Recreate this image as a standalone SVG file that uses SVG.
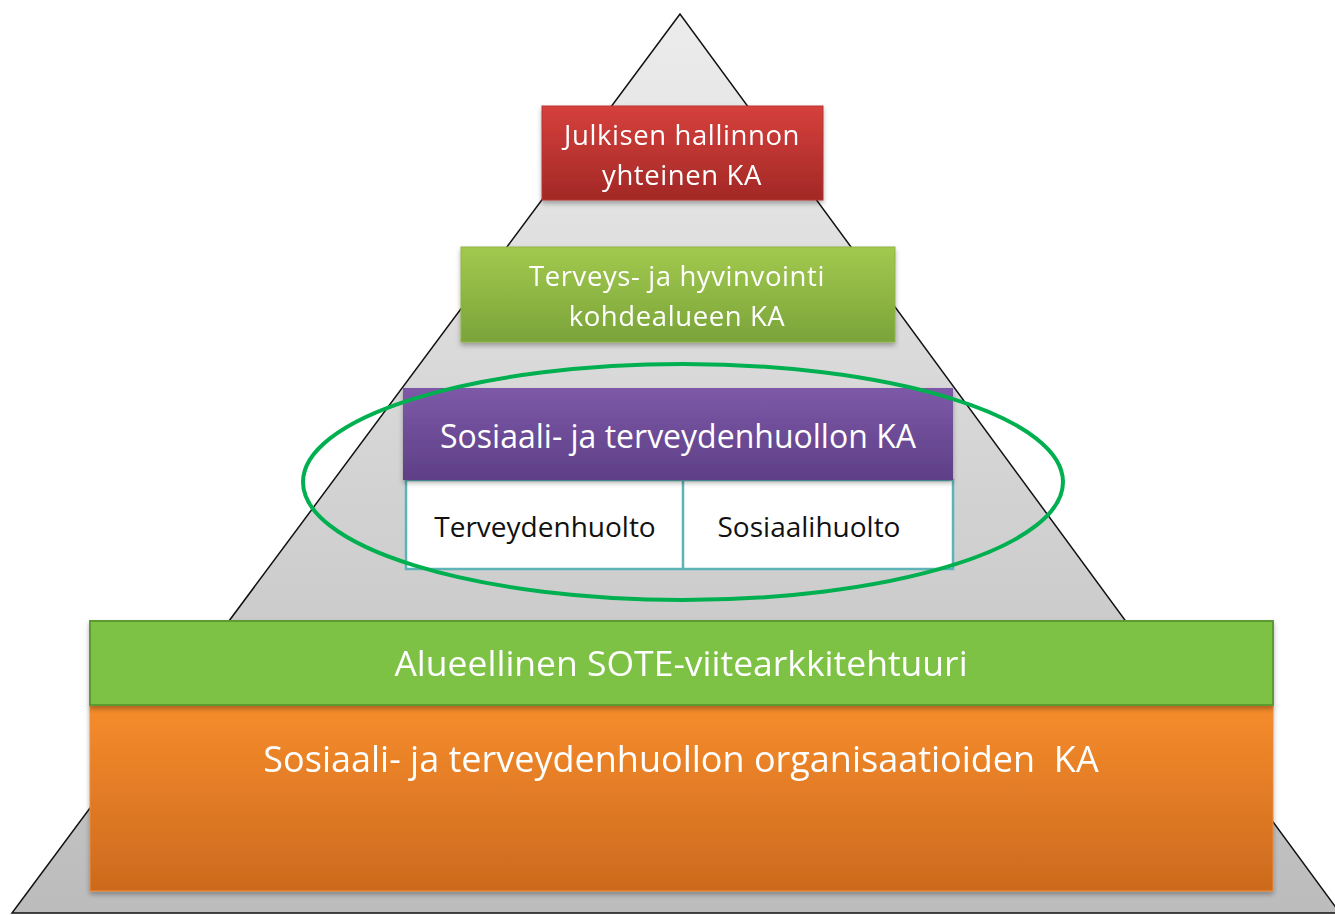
<svg xmlns="http://www.w3.org/2000/svg" width="1335" height="915" viewBox="0 0 1335 915">
<style>
.wt{fill:#ffffff;font-family:"Open Sans",Lato,sans-serif;text-anchor:middle;white-space:pre}
.bt{fill:#111111;font-family:"Open Sans",Lato,sans-serif;text-anchor:middle;font-size:28px}
</style>
<defs>
<linearGradient id="gTri" x1="0" y1="0" x2="0" y2="1"><stop offset="0" stop-color="#ececec"/><stop offset="1" stop-color="#bcbcbc"/></linearGradient>
<linearGradient id="gRed" x1="0" y1="0" x2="0" y2="1"><stop offset="0" stop-color="#d6403c"/><stop offset="1" stop-color="#a22826"/></linearGradient>
<linearGradient id="gGreen" x1="0" y1="0" x2="0" y2="1"><stop offset="0" stop-color="#a2c94e"/><stop offset="1" stop-color="#7aa43a"/></linearGradient>
<linearGradient id="gPurple" x1="0" y1="0" x2="0" y2="1"><stop offset="0" stop-color="#7d59a8"/><stop offset="1" stop-color="#5e3f86"/></linearGradient>
<linearGradient id="gOrange" x1="0" y1="0" x2="0" y2="1"><stop offset="0" stop-color="#f68c2c"/><stop offset="1" stop-color="#cc6a1e"/></linearGradient>
<filter id="sh" x="-5%" y="-10%" width="110%" height="130%"><feDropShadow dx="0" dy="3" stdDeviation="2.5" flood-color="#000" flood-opacity="0.3"/></filter>
</defs>
<g id="pyramid"><polygon points="680,14 12,913 1340,913" fill="url(#gTri)" stroke="#111" stroke-width="1.5"/></g>
<g id="n-julkinen" filter="url(#sh)">
<rect x="542" y="106" width="281" height="94" fill="url(#gRed)" stroke="#b83532" stroke-width="1"/>
<text class="wt" font-size="27.5" letter-spacing="0.6" x="682" y="145">Julkisen hallinnon</text>
<text class="wt" font-size="27.5" letter-spacing="0.6" x="682" y="185">yhteinen KA</text>
</g>
<g id="n-terveys" filter="url(#sh)">
<rect x="461" y="247" width="434" height="95" fill="url(#gGreen)" stroke="#8fb444" stroke-width="1"/>
<text class="wt" font-size="27.5" letter-spacing="0.6" x="677" y="286">Terveys- ja hyvinvointi</text>
<text class="wt" font-size="27.5" letter-spacing="0.6" x="677" y="326">kohdealueen KA</text>
</g>
<g id="n-sote-ka">
<rect x="406" y="480" width="547" height="89" fill="#ffffff" stroke="#5fb3b6" stroke-width="2.5"/>
<line x1="683" y1="480" x2="683" y2="569" stroke="#5fb3b6" stroke-width="2.5"/>
<rect x="403" y="388" width="550" height="92" fill="url(#gPurple)" filter="url(#sh)"/>
<text class="wt" font-size="32" x="678" y="448">Sosiaali- ja terveydenhuollon KA</text>
<text class="bt" x="545" y="537">Terveydenhuolto</text>
<text class="bt" x="809" y="537">Sosiaalihuolto</text>
</g>
<g id="n-ellipse"><ellipse cx="683" cy="482" rx="380" ry="118" fill="none" stroke="#00b050" stroke-width="4"/></g>
<g id="n-organisaatiot" filter="url(#sh)">
<rect x="90" y="705" width="1183" height="186" fill="url(#gOrange)" stroke="#f08a34" stroke-width="1"/>
<text class="wt" font-size="36" x="681" y="772">Sosiaali- ja terveydenhuollon organisaatioiden  KA</text>
</g>
<g id="n-alueellinen" filter="url(#sh)">
<rect x="90" y="621" width="1183" height="84" fill="#7dc244" stroke="#5c9a30" stroke-width="2"/>
<text class="wt" font-size="35.5" x="681" y="676" font-family="'Liberation Sans',Arial,sans-serif">Alueellinen SOTE-viitearkkitehtuuri</text>
</g>
<g id="connectors"/>
</svg>
